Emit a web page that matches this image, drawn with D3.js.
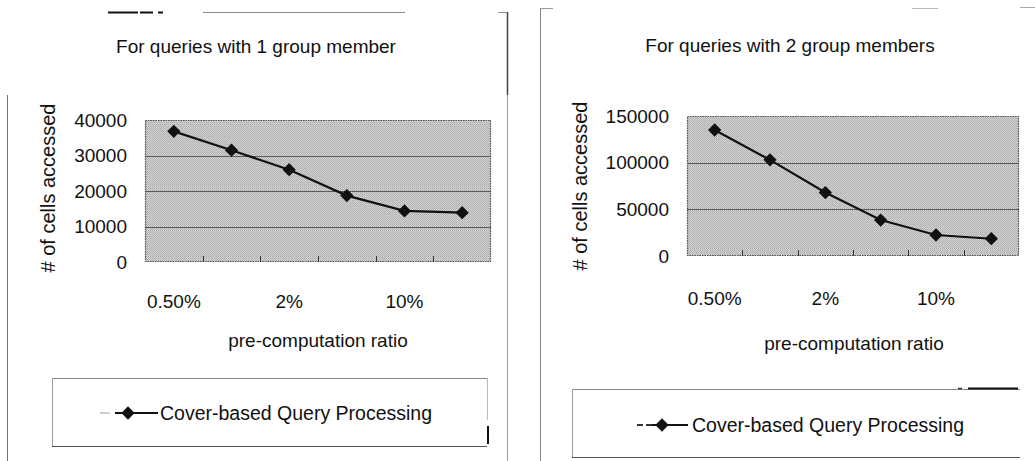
<!DOCTYPE html>
<html>
<head>
<meta charset="utf-8">
<script src="https://cdn.jsdelivr.net/npm/d3@7"></script>
<style>
  html, body { margin: 0; padding: 0; background: #fff; }
  svg { display: block; }
  text { font-family: "Liberation Sans", Arial, sans-serif; fill: #111; }
</style>
</head>
<body>
<svg id="chart" width="1035" height="461"></svg>
<script>
// Pre-computation ratios on the x axis (every other one is labelled)
const categories = ["0.50%", "1%", "2%", "5%", "10%", "20%"];
const labelledCategories = ["0.50%", "2%", "10%"];

// Number of cells accessed, one series per panel
const cellsOneMember = [36800, 31500, 26000, 18700, 14400, 13900];
const cellsTwoMembers = [135000, 103000, 68000, 38500, 22500, 18500];

// Y tick values per panel
const yTicksOneMember = [0, 10000, 20000, 30000, 40000];
const yTicksTwoMembers = [0, 50000, 100000, 150000];

const panelTitles = ["For queries with 1 group member", "For queries with 2 group members"];
const xAxisTitle = "pre-computation ratio";
const yAxisTitle = "# of cells accessed";
const seriesName = "Cover-based Query Processing";

const svg = d3.select("#chart");
const defs = svg.append("defs");

// Halftone-like grey fill for the plot area
const pat = defs.append("pattern")
  .attr("id", "halftone")
  .attr("width", 2).attr("height", 2)
  .attr("patternUnits", "userSpaceOnUse");
pat.append("rect").attr("width", 2).attr("height", 2).attr("fill", "#d2d2d2");
pat.append("rect").attr("x", 0).attr("y", 0).attr("width", 1).attr("height", 1).attr("fill", "#ababab");
pat.append("rect").attr("x", 1).attr("y", 1).attr("width", 1).attr("height", 1).attr("fill", "#b8b8b8");

const panels = [
  {
    values: cellsOneMember, ticks: yTicksOneMember, max: 40000, title: panelTitles[0],
    plot: { left: 145, right: 491, top: 120, bottom: 262 },
    titleX: 256, titleY: 53,
    yTitleX: 48, yTitleY: 188,
    xTitleX: 318, xTitleY: 347,
    xLabelY: 307,
    legend: { x0: 52, x1: 487, y0: 378, y1: 446, markX: 128, lineX0: 115, lineX1: 158, textX: 160, textY: 420,
              dashes: [[100, 110, "#ccc"]] }
  },
  {
    values: cellsTwoMembers, ticks: yTicksTwoMembers, max: 150000, title: panelTitles[1],
    plot: { left: 687, right: 1019, top: 116, bottom: 256 },
    titleX: 790, titleY: 52,
    yTitleX: 580, yTitleY: 186,
    xTitleX: 854, xTitleY: 350,
    xLabelY: 304,
    legend: { x0: 572, x1: 1020, y0: 389, y1: 457, markX: 662, lineX0: 652, lineX1: 688, textX: 692, textY: 432,
              dashes: [[637, 643, "#333"], [646, 652, "#333"]] }
  }
];

const diamond = d3.symbol().type(d3.symbolSquare).size(88);

panels.forEach(p => {
  const g = svg.append("g");
  const x = d3.scaleBand().domain(categories).range([p.plot.left, p.plot.right]).padding(0);
  const y = d3.scaleLinear().domain([0, p.max]).range([p.plot.bottom, p.plot.top]);

  // plot area
  g.append("rect")
    .attr("x", p.plot.left).attr("y", p.plot.top)
    .attr("width", p.plot.right - p.plot.left)
    .attr("height", p.plot.bottom - p.plot.top)
    .attr("fill", "url(#halftone)");

  // horizontal gridlines
  g.append("g").selectAll("line")
    .data(p.ticks.filter(t => t > 0 && t < p.max))
    .join("line")
    .attr("x1", p.plot.left).attr("x2", p.plot.right)
    .attr("y1", d => Math.round(y(d)) + 0.5).attr("y2", d => Math.round(y(d)) + 0.5)
    .attr("stroke", "#5a5a5a").attr("stroke-width", 1);

  // plot border (dotted)
  g.append("rect")
    .attr("x", p.plot.left + 0.5).attr("y", p.plot.top + 0.5)
    .attr("width", p.plot.right - p.plot.left - 1)
    .attr("height", p.plot.bottom - p.plot.top - 1)
    .attr("fill", "none").attr("stroke", "#555").attr("stroke-width", 1.2)
    .attr("stroke-dasharray", "1.5,1");

  // category boundary ticks along the bottom, pointing inward
  g.append("g").selectAll("line")
    .data(categories.slice(1))
    .join("line")
    .attr("x1", d => Math.round(x(d)) + 0.5).attr("x2", d => Math.round(x(d)) + 0.5)
    .attr("y1", p.plot.bottom).attr("y2", p.plot.bottom - 6)
    .attr("stroke", "#333").attr("stroke-width", 1);

  // y axis labels
  const yAxis = d3.axisLeft(y).tickValues(p.ticks).tickSize(0).tickPadding(18)
    .tickFormat(d3.format("d"));
  const ya = g.append("g").attr("transform", `translate(${p.plot.left},0)`).call(yAxis);
  ya.select(".domain").remove();
  ya.selectAll("text").attr("font-size", 19).attr("fill", "#1a1a1a")
    .style("font-family", '"Liberation Sans", Arial, sans-serif');

  // x axis labels (every other category)
  const xAxis = d3.axisBottom(x).tickValues(labelledCategories).tickSize(0).tickPadding(0);
  const xa = g.append("g").attr("transform", `translate(0,${p.xLabelY - 13})`).call(xAxis);
  xa.select(".domain").remove();
  xa.selectAll("text").attr("font-size", 19).attr("fill", "#1a1a1a")
    .style("font-family", '"Liberation Sans", Arial, sans-serif');

  // series line
  const line = d3.line()
    .x((d, i) => x(categories[i]) + x.bandwidth() / 2)
    .y(d => y(d));
  g.append("path")
    .datum(p.values)
    .attr("d", line)
    .attr("fill", "none").attr("stroke", "#111").attr("stroke-width", 2.2);

  g.append("g").selectAll("path")
    .data(p.values)
    .join("path")
    .attr("d", diamond)
    .attr("transform", (d, i) => `translate(${x(categories[i]) + x.bandwidth() / 2},${y(d)}) rotate(45)`)
    .attr("fill", "#111");

  // titles
  g.append("text")
    .attr("x", p.titleX).attr("y", p.titleY)
    .attr("text-anchor", "middle").attr("font-size", 19)
    .text(p.title);

  g.append("text")
    .attr("transform", `translate(${p.yTitleX},${p.yTitleY}) rotate(-90)`)
    .attr("text-anchor", "middle").attr("dy", "0.35em").attr("font-size", 20)
    .attr("fill", "#222")
    .text(yAxisTitle);

  g.append("text")
    .attr("x", p.xTitleX).attr("y", p.xTitleY)
    .attr("text-anchor", "middle").attr("font-size", 19)
    .text(xAxisTitle);

  // legend
  const L = p.legend;
  const lg = g.append("g");
  lg.append("line").attr("x1", L.x0).attr("x2", L.x1).attr("y1", L.y0 + 0.5).attr("y2", L.y0 + 0.5)
    .attr("stroke", "#888");
  lg.append("line").attr("x1", L.x0 + 0.5).attr("x2", L.x0 + 0.5).attr("y1", L.y0).attr("y2", L.y1)
    .attr("stroke", "#999");
  lg.append("line").attr("x1", L.x0).attr("x2", L.x1).attr("y1", L.y1 + 0.5).attr("y2", L.y1 + 0.5)
    .attr("stroke", "#555");
  L.dashes.forEach(([a, b, c]) =>
    lg.append("line").attr("x1", a).attr("x2", b).attr("y1", L.textY - 7).attr("y2", L.textY - 7)
      .attr("stroke", c).attr("stroke-width", 2));
  lg.append("line").attr("x1", L.lineX0).attr("x2", L.lineX1).attr("y1", L.textY - 7).attr("y2", L.textY - 7)
    .attr("stroke", "#111").attr("stroke-width", 2.2);
  lg.append("path").attr("d", diamond)
    .attr("transform", `translate(${L.markX},${L.textY - 7}) rotate(45)`)
    .attr("fill", "#111");
  lg.append("text").attr("x", L.textX).attr("y", L.textY).attr("font-size", 19.5)
    .text(seriesName);
});

// Frame lines around the two panels
const frame = svg.append("g").attr("fill", "none");
const seg = (x1, y1, x2, y2, color, w) =>
  frame.append("line").attr("x1", x1).attr("y1", y1).attr("x2", x2).attr("y2", y2)
    .attr("stroke", color).attr("stroke-width", w);

// left panel frame
seg(203, 12.5, 405, 12.5, "#888", 1);
seg(108, 12.5, 138, 12.5, "#111", 2);
seg(140, 12.5, 153, 12.5, "#111", 2);
seg(158, 12.5, 163, 12.5, "#111", 2);
seg(498, 12.5, 507.5, 12.5, "#999", 1);
seg(507.5, 12, 507.5, 95, "#444", 1.5);
seg(507.5, 95, 507.5, 461, "#999", 1);
seg(7.5, 95, 7.5, 461, "#777", 1);
seg(487.5, 378, 487.5, 420, "#bbb", 1);
seg(488, 426, 488, 444, "#111", 2);

// right panel frame
seg(540.5, 8, 540.5, 461, "#888", 1);
seg(540.5, 8.5, 553, 8.5, "#999", 1);
seg(912, 8.5, 938, 8.5, "#bbb", 1);
seg(1020, 7.5, 1035, 7.5, "#aaa", 1);
seg(958, 388.5, 962, 388.5, "#333", 1.5);
seg(968, 388.5, 1018, 388.5, "#111", 2);
</script>
</body>
</html>
